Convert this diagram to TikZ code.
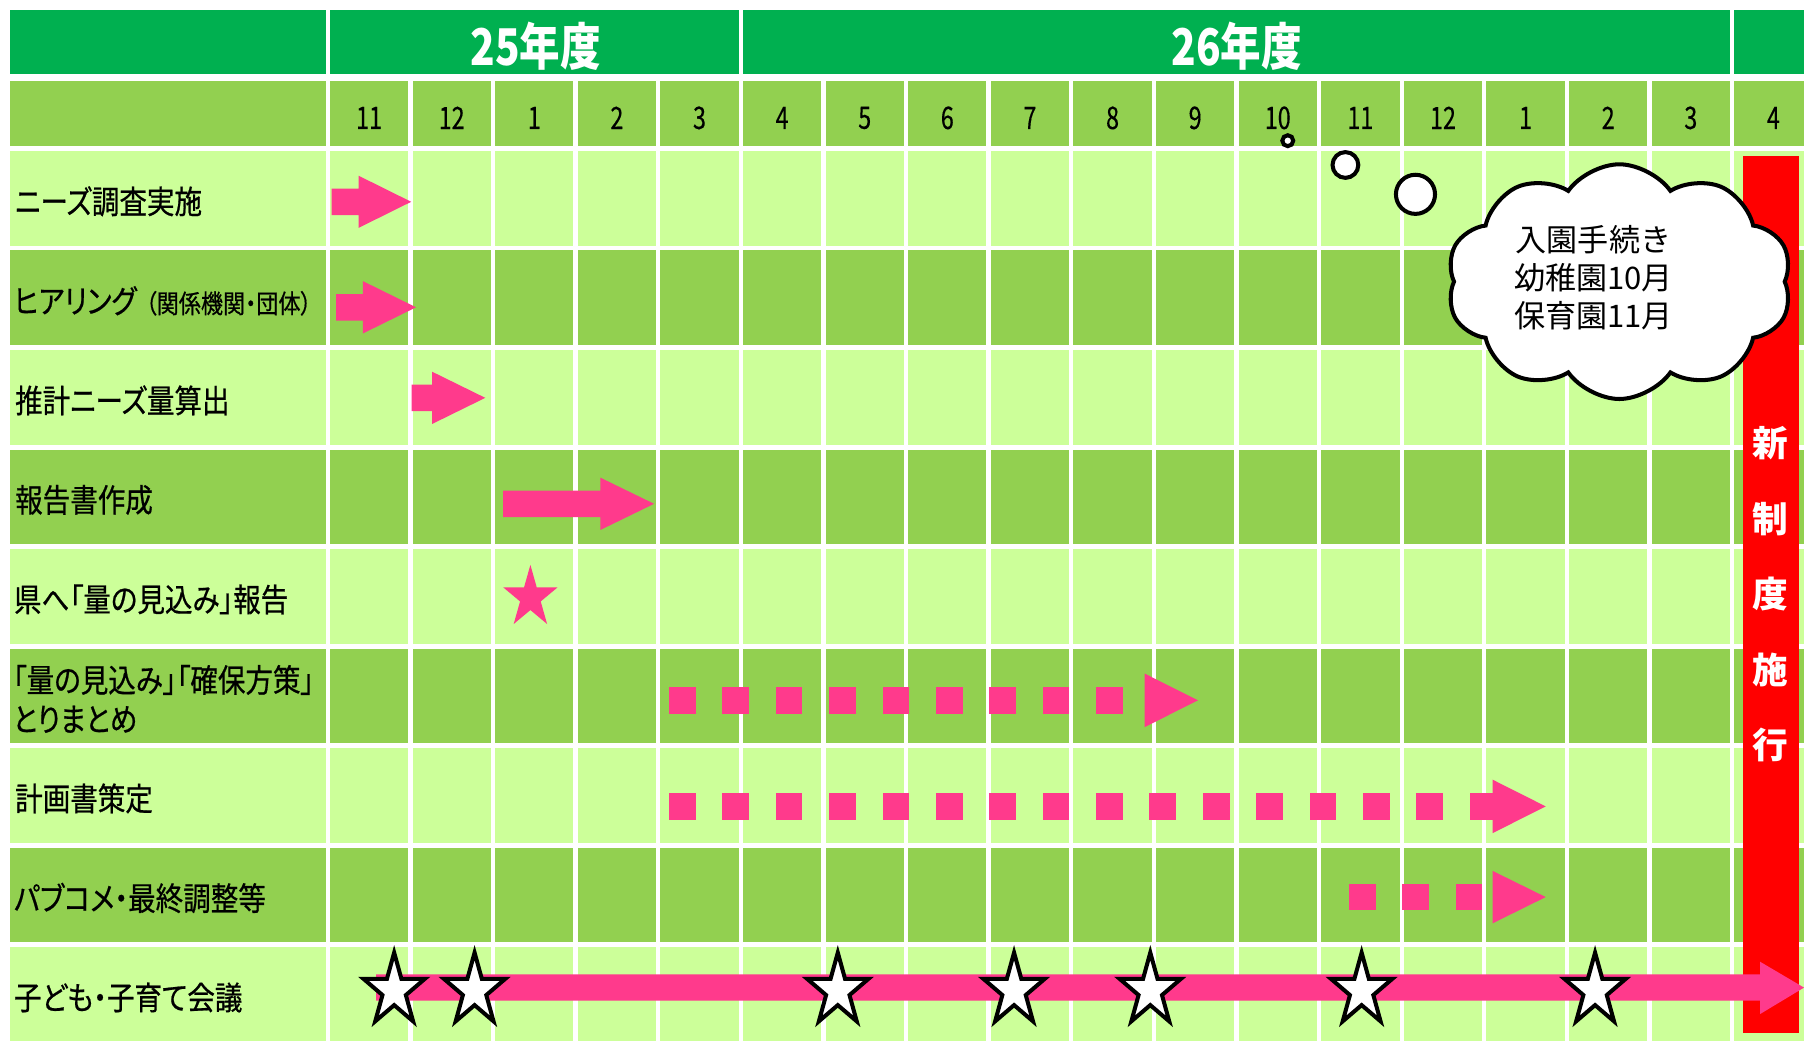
\documentclass[tikz,border=0pt]{standalone}
\usepackage{fontspec}
\usetikzlibrary{shapes.symbols}
\newfontfamily\lblfont[FakeStretch=0.855,FakeBold=0.6,RawFeature=+palt]{Noto Sans CJK JP}
\newfontfamily\numfont[FakeStretch=0.75,FakeBold=0.3]{Noto Sans CJK JP}
\newfontfamily\hdrfont[FakeStretch=0.8]{Noto Sans CJK JP}
\newfontfamily\plainjp{Noto Sans CJK JP}
\definecolor{dkgreen}{HTML}{00B050}
\definecolor{mdgreen}{HTML}{92D050}
\definecolor{ltgreen}{HTML}{CCFF99}
\definecolor{pinkc}{HTML}{FF3A8C}
\definecolor{redbar}{HTML}{FF0000}
\newcommand\blockarrow[4]{% x0, head base, tip, centre y
  \fill[pinkc] (#1,{#4-11.5}) -- (#2,{#4-11.5}) -- (#2,{#4-22.7}) -- (#3,#4)
    -- (#2,{#4+22.7}) -- (#2,{#4+11.5}) -- (#1,{#4+11.5}) -- cycle;}
\newcommand\fivestar[4]{% options, centre, rx, ry
  \begin{scope}[shift={#2},x=#3pt,y=#4pt]
  \path[#1] (90:1) -- (126:0.382) -- (162:1) -- (198:0.382) -- (234:1) -- (270:0.382)
    -- (306:1) -- (342:0.382) -- (18:1) -- (54:0.382) -- cycle;
  \end{scope}}
\tikzset{
  lbltxt/.style={font={\lblfont\fontsize{28pt}{34pt}\selectfont},inner sep=0pt,anchor=west,align=left},
  monthtxt/.style={font={\numfont\fontsize{27pt}{27pt}\selectfont},inner sep=0pt},
  hdrtxt/.style={font={\hdrfont\bfseries\fontsize{44pt}{44pt}\selectfont},text=white,inner sep=0pt},
  redtxt/.style={font={\plainjp\bfseries\fontsize{31pt}{31pt}\selectfont},text=white,inner sep=0pt},
  cloudtxt/.style={font={\plainjp\fontsize{27pt}{33pt}\selectfont},inner sep=0pt,align=center},
  bubble/.style={draw=black,fill=white,line width=3.5pt},
  dashsq/.style={fill=pinkc}
}
\begin{document}
\begin{tikzpicture}[x=1pt,y=-1pt]
\useasboundingbox (0,0) rectangle (1568,904);
\fill[white] (0,0) rectangle (1568,904);
\clip (0,0) rectangle (1568,904);
% year strip
\fill[dkgreen] (8.7,8.7) rectangle (283.1,64.3);
\fill[dkgreen] (286.8,8.7) rectangle (642,64.3);
\fill[dkgreen] (645.8,8.7) rectangle (1503.6,64.3);
\fill[dkgreen] (1507.4,8.7) rectangle (1580,64.3);
% month strip
\fill[mdgreen] (8.7,70.4) rectangle (283.1,126.6);
\foreach \k in {0,...,17} {\fill[mdgreen] ({286.8+71.8*\k},70.4) rectangle ++(68,56.2);}
% data rows
\foreach \r in {0,...,8} {
  \pgfmathsetmacro\rowtop{131.2+86.5*\r}
  \ifodd\r \def\cc{mdgreen}\else\def\cc{ltgreen}\fi
  \fill[\cc] (8.7,\rowtop) rectangle ++(274.4,82.3);
  \foreach \k in {0,...,17} {\fill[\cc] ({286.8+71.8*\k},\rowtop) rectangle ++(68,82.3);}
}
% headers
\node[hdrtxt] (y25) at (465.5,40.2) {25年度};
\node[hdrtxt] (y26) at (1075,40.2) {26年度};
\foreach \m [count=\i from 0] in {11,12,1,2,3,4,5,6,7,8,9,10,11,12,1,2,3,4}
  {\node[monthtxt] (m\i) at ({320.8+71.8*\i},102.5) {\m};}
% row labels
\node[lbltxt] (l1) at (13,175) {ニーズ調査実施};
\node[lbltxt] (l2) at (12,261.5) {ヒアリング\hspace{8pt}{\fontsize{22.5pt}{22.5pt}\selectfont（関係機関・団体）}};
\node[lbltxt] (l3) at (13,348) {推計ニーズ量算出};
\node[lbltxt] (l4) at (13,434.5) {報告書作成};
\node[lbltxt] (l5) at (12,521) {県へ「量の見込み」報告};
\node[lbltxt] (l6) at (11,607.5) {「量の見込み」「確保方策」\\とりまとめ};
\node[lbltxt] (l7) at (13,694) {計画書策定};
\node[lbltxt] (l8) at (12,780.5) {パブコメ・最終調整等};
\node[lbltxt] (l9) at (12,867) {子ども・子育て会議};
% block arrows
\blockarrow{288.3}{311.6}{357.4}{175.4}
\blockarrow{292.2}{315.5}{361.6}{267.1}
\blockarrow{357.8}{375.6}{421.8}{345.8}
\blockarrow{437.3}{521.9}{568.5}{437.9}
% pink star
\fivestar{fill=pinkc}{(461,519.4)}{24.7}{28.4}
% dotted arrows
\foreach \k in {0,...,8} {\fill[dashsq] ({581.5+46.4*\k},597.2) rectangle ++(23.2,23.1);}
\fill[pinkc] (994.8,585.4) -- (1041.3,608.7) -- (994.8,632) -- cycle;
\foreach \k in {0,...,15} {\fill[dashsq] ({581.5+46.4*\k},689.3) rectangle ++(23.2,23.1);}
\fill[pinkc] (1297.4,677.7) -- (1343.5,700.9) -- (1297.4,724.1) -- cycle;
\foreach \k in {0,...,2} {\fill[dashsq] ({1172.5+46.4*\k},768.4) rectangle ++(23.2,22.6);}
\fill[pinkc] (1297.4,757) -- (1343.5,779.7) -- (1297.4,802.5) -- cycle;
% red bar
\fill[redbar] (1515,135.6) rectangle (1564,897.6);
% council arrow
\fill[pinkc] (327,846.9) -- (1529.8,846.9) -- (1529.8,835.9) -- (1568,858.4)
  -- (1529.8,881.4) -- (1529.8,869.8) -- (327,869.8) -- cycle;
\foreach \sx in {342.6,412.5,728.2,881.4,999.8,1183.5,1386.4}
  {\fivestar{draw=black,fill=white,line width=3.5pt}{(\sx,861)}{28}{33}}
% red bar text
\node[redtxt] (s1) at (1539,385.5) {新};
\node[redtxt] (s2) at (1539,451) {制};
\node[redtxt] (s3) at (1539,516.5) {度};
\node[redtxt] (s4) at (1539,582) {施};
\node[redtxt] (s5) at (1539,647.6) {行};
% thought cloud
\node[bubble,circle,minimum size=9.5pt,inner sep=0pt] (b1) at (1119.3,122.3) {};
\node[bubble,circle,minimum size=22.4pt,inner sep=0pt] (b2) at (1169.4,143.4) {};
\node[bubble,circle,minimum size=34pt,inner sep=0pt] (b3) at (1230.3,168.9) {};
\node[bubble,cloud,cloud puffs=10,cloud puff arc=110,aspect=1.47,
  minimum width=300pt,minimum height=204pt,inner sep=0pt] (cloud) at (1407.5,244.8) {};
\node[cloudtxt] (ctext) at (1385,241) {入園手続き\\幼稚園10月\\保育園11月};
\end{tikzpicture}
\end{document}
